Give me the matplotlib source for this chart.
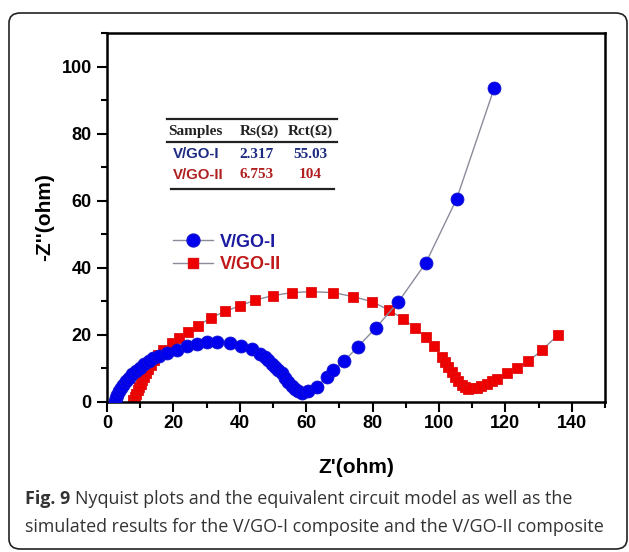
import matplotlib
matplotlib.use("Agg")
import matplotlib.pyplot as plt
from matplotlib.patches import FancyBboxPatch
from matplotlib.lines import Line2D

# ---- data ----
vgo1_x = [2.3, 2.6, 3.0, 3.5, 4.1, 4.8, 5.6, 6.5, 7.5, 8.6, 9.8, 11.1, 12.5, 14.0, 15.8,
          18.0, 21.0, 24.0, 27.0, 30.0, 33.0, 37.0, 40.3, 43.6, 46.0, 47.5, 48.6, 49.6,
          50.6, 51.6, 52.6, 53.6, 54.6, 55.6, 56.6, 57.5, 58.6, 60.6, 63.2, 66.2, 68.2,
          71.5, 75.5, 80.9, 87.8, 96.0, 105.3, 116.6]
vgo1_y = [0.3, 1.2, 2.2, 3.2, 4.2, 5.2, 6.2, 7.2, 8.2, 9.2, 10.2, 11.2, 12.1, 13.0, 13.8,
          14.5, 15.6, 16.6, 17.3, 17.8, 17.9, 17.6, 16.6, 15.9, 14.2, 13.3, 12.4, 11.4,
          10.4, 9.4, 8.5, 7.2, 6.0, 4.9, 3.8, 3.2, 2.8, 3.3, 4.5, 7.5, 9.5,
          12.3, 16.4, 22.0, 29.9, 41.4, 60.5, 93.5]

vgo2_x = [7.9, 8.3, 8.7, 9.2, 9.7, 10.2, 10.6, 11.1, 11.7, 12.4, 13.2, 14.2, 15.5, 17.0,
          19.5, 21.8, 24.5, 27.5, 31.3, 35.5, 40.1, 44.6, 49.9, 55.6, 61.3, 68.2, 74.2,
          79.9, 84.9, 89.3, 92.9, 96.1, 98.6, 100.8, 101.8, 102.8, 103.8, 104.8, 105.8,
          106.8, 107.8, 108.8, 110.0, 111.3, 112.8, 114.4, 115.9, 117.4, 120.4, 123.4,
          126.9, 130.9, 135.9]
vgo2_y = [0.5, 1.5, 2.5, 3.5, 4.5, 5.5, 6.5, 7.5, 8.6, 9.8, 11.0, 12.4, 13.9, 15.6,
          17.5, 19.1, 20.8, 22.8, 25.1, 27.0, 28.7, 30.4, 31.7, 32.6, 32.9, 32.6, 31.4,
          29.9, 27.4, 24.8, 22.0, 19.3, 16.6, 13.4, 11.9, 10.4, 9.0, 7.5, 6.2,
          5.0, 4.4, 4.0, 4.1, 4.3, 4.8, 5.5, 6.2, 7.0, 8.5, 10.0,
          12.1, 15.4, 20.0]

samples = ["V/GO-I", "V/GO-II"]
rs_vals = ["2.317", "6.753"]
rct_vals = ["55.03", "104"]

W, H = 629, 552
fig = plt.figure(figsize=(W / 100, H / 100), dpi=100)
fig.patch.set_facecolor("white")

def fx(px):
    return px / W

def fy(py):
    return 1 - py / H

# rounded border
border = FancyBboxPatch((fx(9), fy(549)), fx(627) - fx(9), fy(13) - fy(549),
                        boxstyle="round,pad=0,rounding_size=0.018",
                        transform=fig.transFigure, facecolor="none",
                        edgecolor="#222222", linewidth=1.2)
fig.patches.append(border)

ax = fig.add_axes([fx(107), fy(402), fx(605) - fx(107), fy(33) - fy(402)])

line_col = "#8a8c9c"
blue = "#0000ee"
red = "#ee0000"

ax.plot(vgo2_x, vgo2_y, color=line_col, lw=1.0, marker="s", ms=7.8,
        mfc=red, mec="#e01010", mew=0.6, zorder=2)
ax.plot(vgo1_x, vgo1_y, color=line_col, lw=1.0, marker="o", ms=9.3,
        mfc=blue, mec="#1010d0", mew=0.6, zorder=3)

ax.set_xlim(0, 150)
ax.set_ylim(0, 110)
ax.set_xticks(range(0, 141, 20))
ax.set_xticks(range(10, 151, 20), minor=True)
ax.set_yticks(range(0, 101, 20))
ax.set_yticks(range(10, 111, 20), minor=True)
ax.tick_params(axis="both", which="major", direction="out", length=7, width=1.5,
               labelsize=13, top=False, right=False, pad=2)
ax.tick_params(axis="y", which="major", pad=4)
ax.tick_params(axis="both", which="minor", direction="out", length=4, width=1.5,
               top=False, right=False)
for lbl in ax.get_xticklabels() + ax.get_yticklabels():
    lbl.set_fontweight("bold")
    lbl.set_family("Liberation Sans")
for sp in ax.spines.values():
    sp.set_linewidth(1.8)

ax.set_xlabel("Z'(ohm)", fontsize=15, fontweight="bold", family="Liberation Sans", labelpad=19)
ax.set_ylabel("-Z''(ohm)", fontsize=15, fontweight="bold", family="Liberation Sans", labelpad=5)

# legend
h1 = Line2D([], [], color=line_col, lw=1.0, marker="o", ms=9.3, mfc=blue, mec="#1010d0")
h2 = Line2D([], [], color=line_col, lw=1.0, marker="s", ms=7.8, mfc=red, mec="#e01010")
leg = ax.legend([h1, h2], samples, loc="upper left", bbox_to_anchor=(0.10, 0.50),
                frameon=False, handlelength=2.2, handletextpad=0.4, labelspacing=0.3,
                prop={"family": "Liberation Sans", "weight": "bold", "size": 13})
for t, c in zip(leg.get_texts(), ["#1a1aa0", "#c01818"]):
    t.set_color(c)

# table inset
tcols = {"navy": "#1c2a80", "dred": "#b02020"}
fig.add_artist(Line2D([fx(167), fx(337)], [fy(119), fy(119)], color="#222222", lw=1.6))
fig.add_artist(Line2D([fx(167), fx(337)], [fy(142), fy(142)], color="#222222", lw=1.6))
fig.add_artist(Line2D([fx(171), fx(334)], [fy(189), fy(189)], color="#222222", lw=1.6))
serif = "Liberation Serif"
fs_t = 11
fig.text(fx(168), fy(131), "Samples", ha="left", va="center", family=serif,
         fontweight="bold", fontsize=fs_t, color="#222222")
fig.text(fx(259), fy(131), "Rs(Ω)", ha="center", va="center", family=serif,
         fontweight="bold", fontsize=fs_t, color="#222222")
fig.text(fx(310), fy(131), "Rct(Ω)", ha="center", va="center", family=serif,
         fontweight="bold", fontsize=fs_t, color="#222222")
row_y = [154, 175]
row_c = [tcols["navy"], tcols["dred"]]
for s, rs, rct, yy, c in zip(samples, rs_vals, rct_vals, row_y, row_c):
    fig.text(fx(173), fy(yy), s, ha="left", va="center", family="Liberation Sans",
             fontweight="bold", fontsize=10.8, color=c)
    fig.text(fx(257), fy(yy), rs, ha="center", va="center", family=serif,
             fontweight="bold", fontsize=fs_t, color=c)
    fig.text(fx(310), fy(yy), rct, ha="center", va="center", family=serif,
             fontweight="bold", fontsize=fs_t, color=c)

# caption
cap_col = "#333333"
cap_fs = 12.9
t1 = fig.text(fx(25), fy(499), "Fig. 9", ha="left", va="center", family="Open Sans",
              fontweight="bold", fontsize=cap_fs, color=cap_col)
fig.canvas.draw()
bb = t1.get_window_extent()
x_end = bb.x1 / W
fig.text(x_end + 5 / W, fy(499), "Nyquist plots and the equivalent circuit model as well as the",
         ha="left", va="center", family="Open Sans", fontsize=cap_fs, color=cap_col)
fig.text(fx(25), fy(527), "simulated results for the V/GO-I composite and the V/GO-II composite",
         ha="left", va="center", family="Open Sans", fontsize=cap_fs, color=cap_col)

fig.savefig("out.png", dpi=100)
